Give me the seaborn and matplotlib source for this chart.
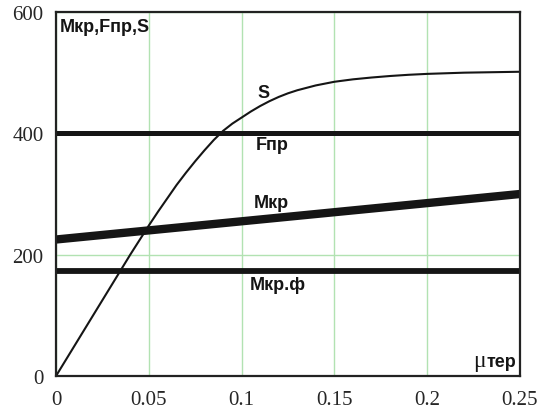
import numpy as np
import pandas as pd
import matplotlib.pyplot as plt
import seaborn as sns

# friction coefficient (x) and curves
mu = [0.00, 0.01, 0.02, 0.03, 0.04, 0.05, 0.055, 0.06, 0.065, 0.07,
      0.075, 0.08, 0.085, 0.09, 0.095, 0.10, 0.105, 0.11, 0.115, 0.12,
      0.125, 0.13, 0.14, 0.15, 0.16, 0.17, 0.18, 0.19, 0.20, 0.21,
      0.22, 0.23, 0.24, 0.25]
s_vals = [0, 50, 100, 150, 200, 248, 271, 293, 315, 335,
          354, 372, 389, 404, 416, 426, 436, 445, 453, 460,
          466, 471, 479, 485, 489, 492, 494.5, 496.5, 498, 499,
          500, 500.5, 501, 501.5]

mu_ends = [0.0, 0.25]
f_pr = [400, 400]
m_kr = [225, 300]
m_kr_f = [173, 173]

x_ticks = [0, 0.05, 0.1, 0.15, 0.2, 0.25]
x_labels = ['0', '0.05', '0.1', '0.15', '0.2', '0.25']
y_ticks = [0, 200, 400, 600]

sns.set_style('white')
fig = plt.figure(figsize=(5.55, 4.14), dpi=100)
ax = fig.add_axes([56/555, 1 - 377/414, 464/555, 364/414])

ax.grid(True, color='#b2e2b2', lw=1.0)
ax.set_axisbelow(True)

ink = '#151515'
sns.lineplot(x=mu, y=s_vals, color=ink, lw=1.5, ax=ax)
sns.lineplot(x=mu_ends, y=f_pr, color=ink, lw=3.6, ax=ax)
sns.lineplot(x=mu_ends, y=m_kr, color=ink, lw=6, ax=ax)
sns.lineplot(x=mu_ends, y=m_kr_f, color=ink, lw=4.2, ax=ax)

ax.set_xlim(0, 0.25)
ax.set_ylim(0, 600)
ax.set_xticks(x_ticks)
ax.set_xticklabels(x_labels)
ax.set_yticks(y_ticks)
ax.tick_params(length=0, labelsize=15)
ax.tick_params(axis='x', pad=10)
ax.tick_params(axis='y', pad=9)
for lab in ax.get_xticklabels() + ax.get_yticklabels():
    lab.set_family('Liberation Serif')
for sp in ax.spines.values():
    sp.set_visible(True)
    sp.set_color('#222222')
    sp.set_linewidth(1.6)

lbl = dict(family='Liberation Sans', weight='bold', fontsize=13, color=ink)
ax.text(0.009, 0.983, 'Mкр,Fпр,S', transform=ax.transAxes, ha='left', va='top', **lbl)
ax.text(0.1118, 468, 'S', ha='center', va='center', **lbl)
ax.text(0.1166, 382, 'Fпр', ha='center', va='center', **lbl)
ax.text(0.116, 286, 'Mкр', ha='center', va='center', **lbl)
ax.text(0.1196, 151, 'Mкр.ф', ha='center', va='center', **lbl)
ax.text(0.2481, 16.5, 'тер', ha='right', va='baseline', **lbl)
ax.text(0.2313, 16.5, 'μ', ha='right', va='baseline', family='Liberation Serif',
        fontsize=17, color=ink)

ax.set_xlabel('')
ax.set_ylabel('')
fig.savefig('out.png', dpi=100)
